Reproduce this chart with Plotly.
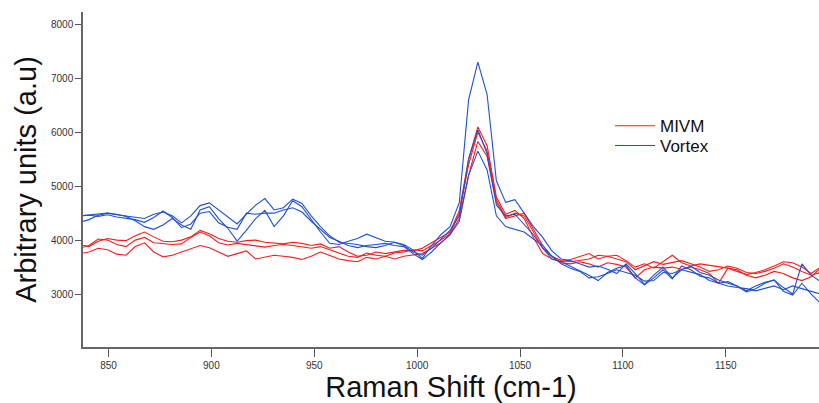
import plotly.graph_objects as go

# Raman shift grid (cm-1)
raman_shift = [836 + 4.5 * i for i in range(81)]

vortex_1 = [4450, 4470, 4480, 4500, 4470, 4450, 4420, 4400, 4480, 4520,
            4450, 4320, 4450, 4640, 4690, 4560, 4420, 4300, 4480, 4650,
            4770, 4560, 4600, 4760, 4680, 4450, 4250, 4080, 3960, 3940,
            3920, 3880, 3860, 3900, 3960, 3920, 3820, 3660, 3900, 4100,
            4250, 4700, 6600, 7300, 6700, 5100, 4700, 4750, 4500, 4250,
            4050, 3800, 3650, 3620, 3560, 3500, 3520, 3460, 3380, 3560,
            3380, 3180, 3350, 3500, 3300, 3450, 3520, 3400, 3350, 3260,
            3200, 3150, 3060, 3150, 3220, 3260, 3120, 3000, 3560, 3350,
            3230]
vortex_2 = [4330, 4380, 4460, 4500, 4480, 4440, 4360, 4250, 4200, 4280,
            4400, 4280, 4200, 4560, 4620, 4400, 4220, 3980, 4180, 4400,
            4550, 4250, 4450, 4730, 4620, 4380, 4150, 3940, 3920, 3980,
            4030, 4110, 4050, 3980, 3960, 3900, 3780, 3720, 3850, 4010,
            4180, 4450, 5500, 6050, 5600, 4650, 4450, 4480, 4300, 4100,
            3850, 3650, 3600, 3520, 3430, 3350, 3250, 3400, 3480, 3530,
            3300, 3170, 3300, 3450, 3280, 3520, 3450, 3330, 3300, 3200,
            3230, 3150, 3040, 3100, 3200, 3260, 3050, 2980, 3200, 3000,
            2830]
vortex_3 = [4450, 4460, 4440, 4470, 4430, 4400, 4380, 4330, 4420, 4540,
            4420, 4230, 4300, 4500, 4530, 4320, 4240, 4200, 4500, 4480,
            4500, 4500, 4560, 4600, 4520, 4350, 4200, 4050, 3980, 3900,
            3860, 3900, 3920, 3940, 3900, 3880, 3750, 3640, 3780, 3950,
            4100, 4350, 5200, 5650, 5300, 4450, 4250, 4200, 4150, 4020,
            3900, 3700, 3560, 3480, 3420, 3300, 3320, 3380, 3450, 3400,
            3350, 3240, 3250, 3400, 3380, 3450, 3400, 3360, 3250, 3200,
            3150, 3120, 3100, 3060, 3100, 3150, 3080, 3150, 3100, 3050,
            3000]

mivm_1 = [3920, 3880, 3980, 4030, 4000, 3990, 4080, 4150, 4060, 3980,
          3970, 4000, 4060, 4180, 4120, 4030, 3980, 3960, 3990, 4000,
          3960, 3950, 3930, 3960, 3940, 3900, 3930, 3850, 3880, 3780,
          3700, 3720, 3780, 3750, 3780, 3810, 3800, 3850, 3950, 4050,
          4150, 4550, 5500, 6100, 5750, 4800, 4480, 4550, 4400, 4050,
          3750, 3650, 3600, 3640, 3700, 3750, 3650, 3700, 3720, 3620,
          3500, 3560, 3480, 3600, 3720, 3580, 3520, 3560, 3530, 3500,
          3480, 3420, 3360, 3400, 3450, 3520, 3600, 3580, 3500, 3380,
          3500]
mivm_2 = [3850, 3900, 4020, 4000, 3920, 3880, 4000, 4050, 3950, 3940,
          3920, 3930, 4050, 4150, 4080, 3950, 3910, 3940, 3920, 3890,
          3870, 3900, 3920, 3900, 3880, 3850, 3880, 3820, 3750, 3700,
          3680, 3760, 3720, 3700, 3760, 3780, 3820, 3800, 3900, 4000,
          4120, 4500, 5400, 6000, 5650, 4750, 4420, 4500, 4450, 4150,
          3850, 3700, 3620, 3600, 3620, 3650, 3720, 3700, 3650, 3600,
          3450, 3520, 3600, 3550, 3580, 3620, 3560, 3500, 3420, 3450,
          3520, 3480, 3400, 3380, 3420, 3480, 3560, 3500, 3420, 3350,
          3400]
mivm_3 = [3750, 3780, 3850, 3820, 3740, 3720, 3880, 3950, 3780, 3690,
          3720, 3780, 3850, 3900, 3860, 3780, 3700, 3750, 3800, 3650,
          3680, 3720, 3700, 3680, 3640, 3700, 3780, 3720, 3650, 3620,
          3600, 3680, 3650, 3700, 3650, 3700, 3720, 3750, 3850, 3950,
          4100, 4400, 5200, 5830, 5550, 4700, 4400, 4450, 4500, 4200,
          3900, 3700, 3580, 3560, 3600, 3560, 3500, 3580, 3550, 3500,
          3300, 3450, 3500, 3480, 3500, 3460, 3500, 3450, 3380, 3200,
          3480, 3450, 3350, 3300, 3350, 3420, 3380, 3300, 3250, 3320,
          3480]

x_ticks = [850, 900, 950, 1000, 1050, 1100, 1150]
y_ticks = [3000, 4000, 5000, 6000, 7000, 8000]

RED = "#ff1a1a"
BLUE = "#1f4fd6"

fig = go.Figure()
for k, ys in enumerate([mivm_1, mivm_2, mivm_3]):
    fig.add_trace(go.Scatter(x=raman_shift, y=ys, mode="lines",
                             line=dict(color=RED, width=1.1),
                             name="MIVM", showlegend=(k == 0),
                             legend="legend"))
for k, ys in enumerate([vortex_1, vortex_2, vortex_3]):
    fig.add_trace(go.Scatter(x=raman_shift, y=ys, mode="lines",
                             line=dict(color=BLUE, width=1.1),
                             name="Vortex", showlegend=(k == 0),
                             legend="legend2"))

legend_style = dict(xanchor="left", yanchor="top",
                    bgcolor="rgba(0,0,0,0)", font=dict(size=17, color="#111"),
                    itemwidth=40)

fig.update_layout(
    width=819, height=403,
    margin=dict(l=83, r=0, t=12, b=56),
    plot_bgcolor="white", paper_bgcolor="white",
    font=dict(family="Liberation Sans, Arial, sans-serif", color="#222"),
    legend=dict(x=0.716, y=0.713, **legend_style),
    legend2=dict(x=0.716, y=0.654, **legend_style),
    xaxis=dict(range=[837.6, 1195.3], tickvals=x_ticks,
               ticks="outside", ticklen=8, tickwidth=1, tickcolor="#555",
               showline=True, linecolor="#666", linewidth=1.5,
               showgrid=False, zeroline=False,
               tickfont=dict(size=10, color="#333"),
               title=dict(text="Raman Shift (cm-1)",
                          font=dict(size=29, color="#111"), standoff=6)),
    yaxis=dict(range=[2018, 8230], tickvals=y_ticks,
               ticks="outside", ticklen=6, tickwidth=1, tickcolor="#555",
               showline=True, linecolor="#666", linewidth=1.5,
               showgrid=False, zeroline=False,
               tickfont=dict(size=10, color="#333"),
               title=dict(text="Arbitrary units (a.u)",
                          font=dict(size=29, color="#111"), standoff=6)),
)

fig.write_html("out.html")
